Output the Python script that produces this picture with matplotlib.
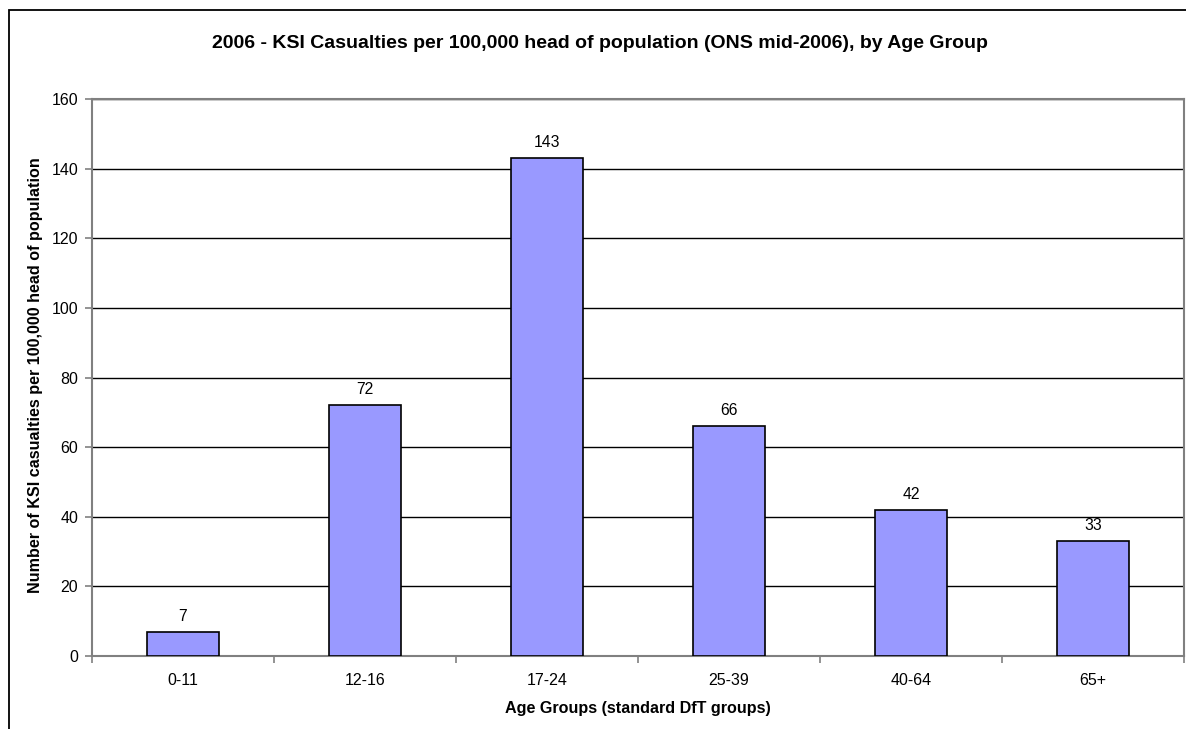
import matplotlib
matplotlib.use("Agg")
import matplotlib.pyplot as plt
from matplotlib.patches import Rectangle
import numpy as np

plt.rcParams['font.family'] = ['Liberation Sans', 'DejaVu Sans']

age_groups = ["0-11", "12-16", "17-24", "25-39", "40-64", "65+"]
ksi_rates = [7, 72, 143, 66, 42, 33]
y_ticks = [0, 20, 40, 60, 80, 100, 120, 140, 160]

W, H = 1186, 729
fig = plt.figure(figsize=(W / 100, H / 100), dpi=100)

# outer chart border (extends past the right and bottom edges)
fig.patches.append(Rectangle((9 / W, -0.05), 1.2, 1 - 10 / H + 0.05,
                             transform=fig.transFigure, fill=False,
                             edgecolor="#000000", linewidth=1.3))

ax = fig.add_axes([92 / W, 1 - 656 / H, (1184 - 92) / W, (656 - 99) / H])
x = np.arange(len(age_groups))
ax.bar(x, ksi_rates, width=0.4, color="#9999FF", edgecolor="black",
       linewidth=1.2, zorder=3)
for xi, v in zip(x, ksi_rates):
    ax.annotate(f"{v}", (xi, v), xytext=(0, 8), textcoords="offset points",
                ha="center", va="baseline", fontsize=11.3)

ax.set_xlim(-0.5, len(age_groups) - 0.5)
ax.set_ylim(0, 160)
ax.set_yticks(y_ticks)
ax.set_yticklabels([str(t) for t in y_ticks], fontsize=11.5)
ax.yaxis.grid(True, color="black", linewidth=1.0, zorder=0)
ax.set_axisbelow(True)

ax.set_xticks(x)
ax.set_xticklabels(age_groups, fontsize=11.5)
ax.tick_params(axis="x", length=0, pad=12)
ax.set_xticks(np.arange(-0.5, len(age_groups)), minor=True)
ax.tick_params(axis="x", which="minor", length=5, color="#808080", width=1.2)
ax.tick_params(axis="y", length=5, color="#808080", width=1.2, pad=5)

for side in ["top", "right", "left", "bottom"]:
    ax.spines[side].set_color("#808080")
    ax.spines[side].set_linewidth(1.5)

fig.text(638 / W, 1 - 713 / H, "Age Groups (standard DfT groups)",
         ha="center", va="baseline", fontsize=11.6, fontweight="bold")
fig.text(36 / W, 1 - 375 / H,
         "Number of KSI casualties per 100,000 head of population",
         ha="center", va="center", rotation=90, fontsize=11.6, fontweight="bold")

fig.text(600 / W, 1 - 48 / H,
         "2006 - KSI Casualties per 100,000 head of population (ONS mid-2006), by Age Group",
         ha="center", va="baseline", fontsize=14, fontweight="bold")

fig.savefig("out.png", dpi=100, facecolor="white")
